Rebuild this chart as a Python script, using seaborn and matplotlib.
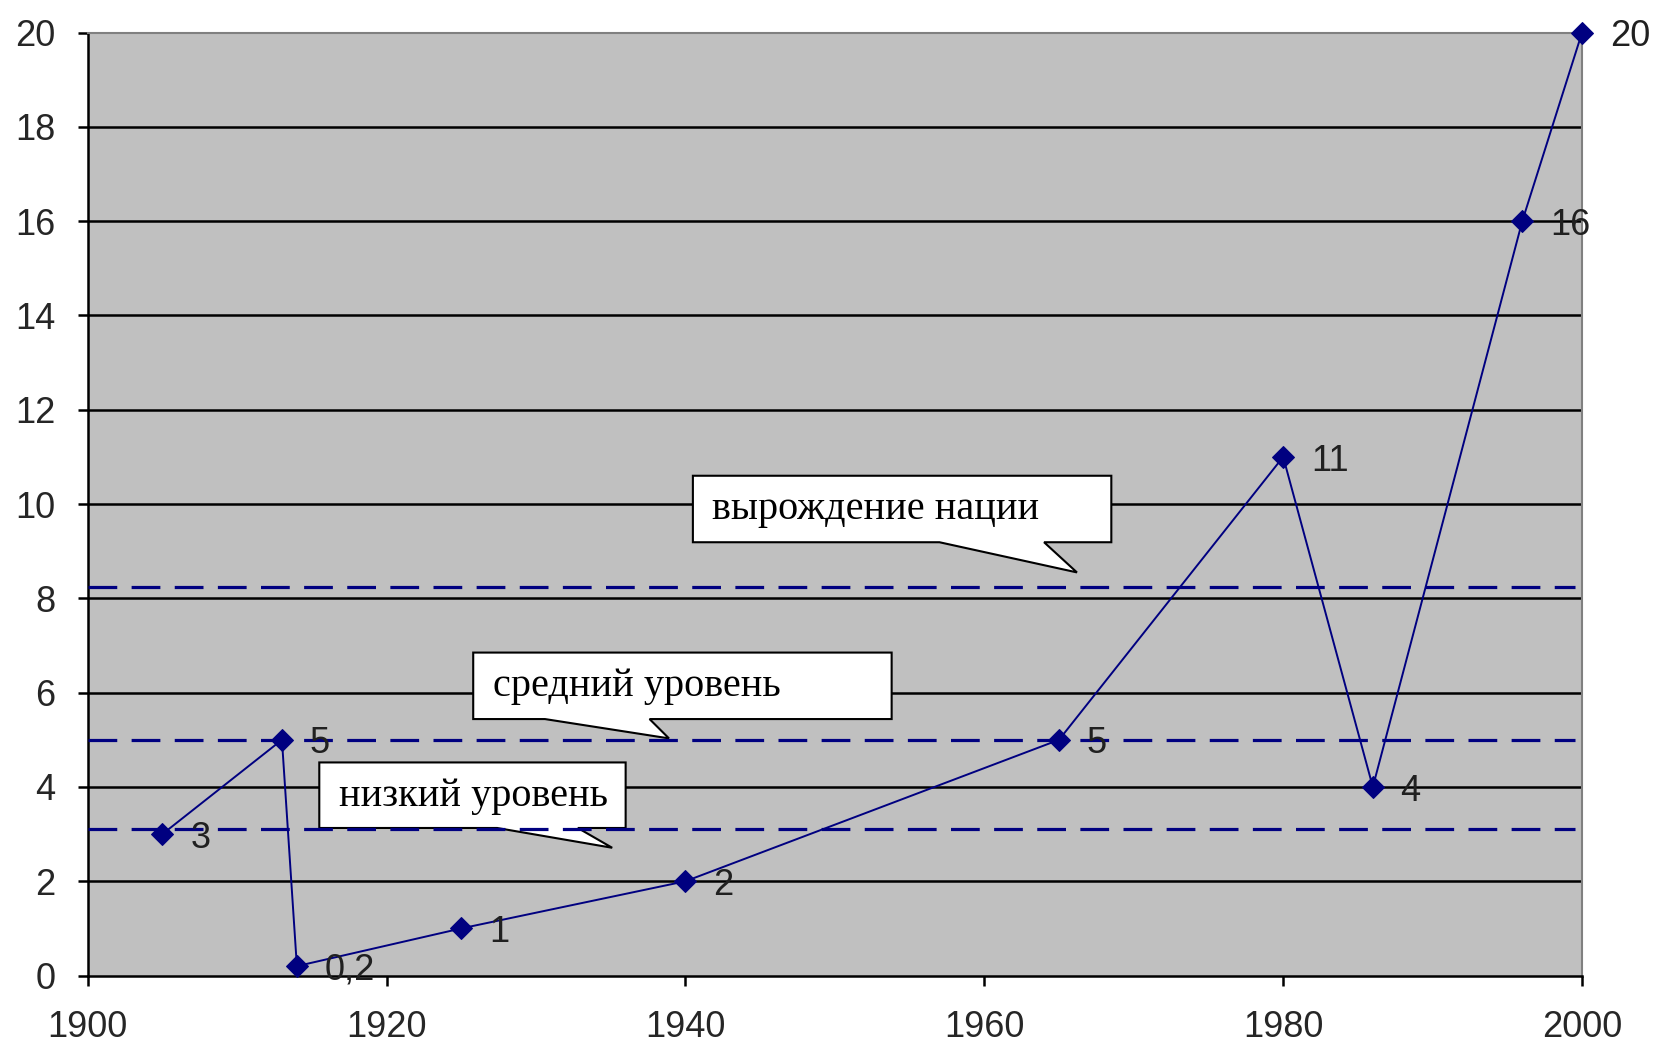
import numpy as np
import pandas as pd
import matplotlib
matplotlib.use("Agg")
import matplotlib.pyplot as plt
import seaborn as sns
from matplotlib.patches import Polygon

# data
years = [1905, 1913, 1914, 1925, 1940, 1965, 1980, 1986, 1996, 2000]
values = [3, 5, 0.2, 1, 2, 5, 11, 4, 16, 20]
point_labels = ["3", "5", "0,2", "1", "2", "5", "11", "4", "16", "20"]

# reference levels (dashed lines)
levels = [8.25, 5.0, 3.1]

# callout texts
callout_texts = ["вырождение нации", "средний уровень", "низкий уровень"]
# box (x0, x1, y0, y1) and tail (left base x, right base x, tip x, tip y) in data units
callout_boxes = [(1940.5, 1968.5, 9.19, 10.60),
                 (1925.8, 1953.8, 5.44, 6.85),
                 (1915.5, 1936.0, 3.13, 4.52)]
callout_tails = [(1957.0, 1964.0, 1966.2, 8.55),
                 (1930.6, 1937.6, 1938.9, 5.03),
                 (1927.4, 1932.8, 1935.1, 2.71)]

df = pd.DataFrame({"year": years, "value": values})

sns.set_style("white", {"axes.facecolor": "#C0C0C0"})
plt.rcParams["font.family"] = ["Liberation Sans", "DejaVu Sans"]

fig = plt.figure(figsize=(16.54, 10.49), dpi=100)
ax = fig.add_axes([0.053, 0.070, 0.9035, 0.899])
ax.set_facecolor("#C0C0C0")

ax.set_xlim(1900, 2000)
ax.set_ylim(0, 20)
ax.set_xticks(np.arange(1900, 2001, 20))
ax.set_yticks(np.arange(0, 21, 2))

# horizontal black gridlines
for y in np.arange(2, 20, 2):
    ax.axhline(y, color="black", lw=1.8, zorder=1)

# callouts
for text, (x0, x1, y0, y1), (tl, tr, tx, ty) in zip(callout_texts, callout_boxes, callout_tails):
    poly = Polygon([(x0, y0), (x0, y1), (x1, y1), (x1, y0), (tr, y0), (tx, ty), (tl, y0)],
                   closed=True, facecolor="white", edgecolor="black", lw=1.5, zorder=2)
    ax.add_patch(poly)
    ax.text(x0 + 1.3, (y0 + y1) / 2 - 0.02, text, family="Liberation Serif", fontsize=29,
            va="center", ha="left", zorder=3, color="black")

# dashed reference levels
for lv in levels:
    ax.axhline(lv, xmax=0.995, color="#000080", lw=2.3, dashes=(9, 4.5), zorder=3)

sns.lineplot(data=df, x="year", y="value", color="#000080", lw=1.4, marker="D",
             markersize=11, markeredgecolor="#000080", sort=False, ax=ax, zorder=4,
             clip_on=False)

for x, y, lab in zip(years, values, point_labels):
    ax.annotate(lab, (x, y), xytext=(20, -3), textcoords="offset points",
                fontsize=26, va="center", ha="left", color="#202020", zorder=5,
                annotation_clip=False)

ax.set_xlabel("")
ax.set_ylabel("")
ax.tick_params(axis="both", labelsize=26, length=7, width=1.8, color="black",
               direction="out", left=True, bottom=True)
ax.tick_params(axis="x", pad=18)
ax.tick_params(axis="y", pad=16)

for side in ["left", "bottom"]:
    ax.spines[side].set_color("black")
    ax.spines[side].set_linewidth(1.8)
for side in ["top", "right"]:
    ax.spines[side].set_color("#808080")
    ax.spines[side].set_linewidth(1.5)

fig.savefig("out.png", dpi=100, facecolor="white")
